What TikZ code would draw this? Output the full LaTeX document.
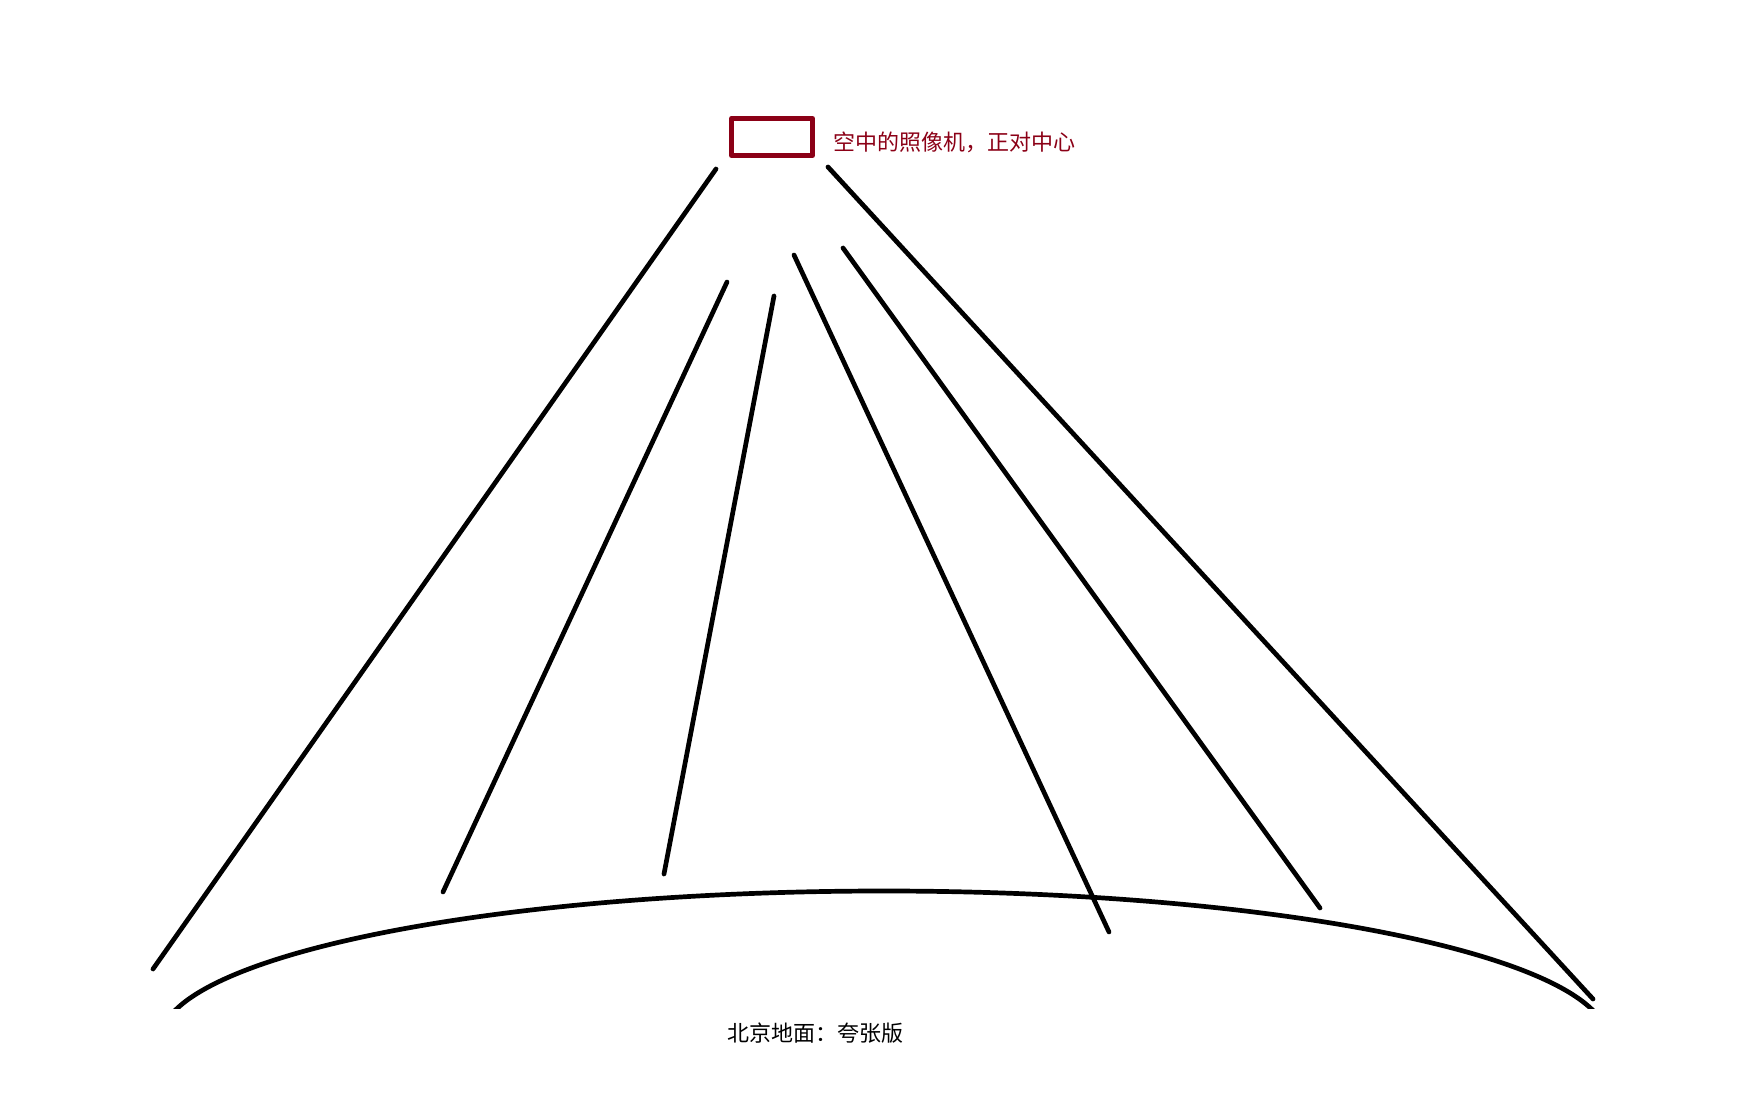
\documentclass[tikz,border=0pt]{standalone}
\usepackage{fontspec}
\newfontfamily\cjk{Noto Sans CJK SC}
\usetikzlibrary{positioning}
\definecolor{camred}{RGB}{139,0,22}
\begin{document}
\begin{tikzpicture}[x=0.5pt, y=-0.5pt, line join=round, line cap=round,
    ray/.style={line width=2.35pt, black},
    camera/.style={draw=camred, line width=2.4pt, minimum width=40.6pt, minimum height=18.6pt, inner sep=0pt},
    camlabel/.style={text=camred, font=\cjk\fontsize{11pt}{13pt}\selectfont, inner sep=0pt},
    groundlabel/.style={text=black, font=\cjk\fontsize{11pt}{13pt}\selectfont, inner sep=0pt}]
    \useasboundingbox (0,0) rectangle (1751,1096);
    % camera above the centre
    \node[camera] (cam) at (772,137) {};
    \node[camlabel, right=9pt of cam, yshift=-2.5pt] (camtext) {空中的照像机，正对中心};
    % rays down to the ground
    \foreach \xa/\ya/\xb/\yb in {716/169/153/969, 727/282/443/892, 774/296/664/874,
                                 794/255/1109/932, 843/248/1320/908, 828/167/1593/999}
    \draw[ray] (\xa,\ya) -- (\xb,\yb);
    % ground, cut off at the bottom
    \begin{scope}
        \clip (0,0) rectangle (1751,1008);
        \draw[ray] (884,1041) ellipse [x radius=362pt, y radius=75pt];
    \end{scope}
    \node[groundlabel, anchor=west] (groundtext) at (727,1033) {北京地面：夸张版};
\end{tikzpicture}
\end{document}
